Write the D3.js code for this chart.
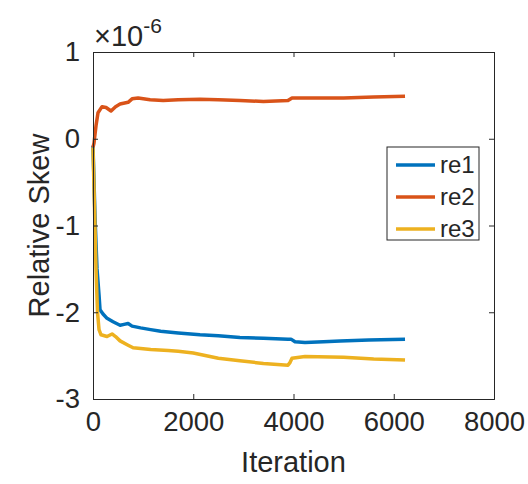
<!DOCTYPE html>
<html>
<head>
<meta charset="utf-8">
<script src="https://cdn.jsdelivr.net/npm/d3@7"></script>
<style>
  body { margin: 0; background: #fff; }
  svg text { font-family: "Liberation Sans", Arial, Helvetica, sans-serif; fill: #262626; }
</style>
</head>
<body>
<div id="chart"></div>
<script>
// values (y in units of 1e-6)
const re1Iter = [0, 40, 80, 120, 140, 200, 280, 400, 540, 620, 700, 780, 950, 1150, 1350, 1700, 2135, 2500, 2930, 3400, 3890, 3950, 4030, 4230, 4600, 4930, 5500, 6225];
const re1 = [-0.08, -0.9, -1.5, -1.8, -1.97, -2.02, -2.07, -2.11, -2.15, -2.14, -2.13, -2.16, -2.18, -2.2, -2.22, -2.24, -2.26, -2.27, -2.29, -2.3, -2.31, -2.31, -2.34, -2.35, -2.34, -2.33, -2.32, -2.31];

const re2Iter = [0, 20, 60, 100, 180, 260, 360, 450, 540, 700, 780, 900, 1140, 1400, 1700, 2135, 2500, 2930, 3400, 3890, 3970, 4500, 5000, 5600, 6225];
const re2 = [-0.1, -0.05, 0.15, 0.3, 0.37, 0.36, 0.32, 0.37, 0.40, 0.42, 0.46, 0.47, 0.45, 0.44, 0.45, 0.455, 0.45, 0.44, 0.43, 0.44, 0.47, 0.47, 0.47, 0.48, 0.49];

const re3Iter = [0, 30, 60, 90, 120, 160, 280, 380, 450, 540, 700, 800, 1000, 1150, 1500, 1700, 2000, 2500, 2930, 3400, 3890, 3930, 3970, 4230, 5000, 5600, 6225];
const re3 = [-0.1, -0.8, -1.5, -2.0, -2.2, -2.26, -2.28, -2.25, -2.28, -2.33, -2.38, -2.41, -2.42, -2.43, -2.44, -2.45, -2.47, -2.53, -2.56, -2.59, -2.61, -2.58, -2.53, -2.51, -2.52, -2.54, -2.55];

const seriesNames = ['re1', 're2', 're3'];
const seriesColors = ['#0072BD', '#D95319', '#EDB120'];
const xTicks = [0, 2000, 4000, 6000, 8000];
const yTicks = [-3, -2, -1, 0, 1];

const width = 528, height = 484;
const margins = { top: 52, right: 34, bottom: 85, left: 93 };

const svg = d3.select('#chart').append('svg')
    .attr('width', width)
    .attr('height', height);

const x = d3.scaleLinear().domain([0, 8000]).range([margins.left, width - margins.right]);
const y = d3.scaleLinear().domain([-3, 1]).range([height - margins.bottom, margins.top]);

const series = [
    { name: seriesNames[0], color: seriesColors[0], data: re1Iter.map((d, i) => [d, re1[i]]) },
    { name: seriesNames[1], color: seriesColors[1], data: re2Iter.map((d, i) => [d, re2[i]]) },
    { name: seriesNames[2], color: seriesColors[2], data: re3Iter.map((d, i) => [d, re3[i]]) },
];

const line = d3.line().x(d => x(d[0])).y(d => y(d[1]));

svg.append('g')
    .attr('fill', 'none')
    .selectAll('path')
    .data(series)
    .join('path')
    .attr('stroke', d => d.color)
    .attr('stroke-width', 3.5)
    .attr('stroke-linejoin', 'round')
    .attr('d', d => line(d.data));

// axes: ticks pointing inward, box on all sides
const tickLen = 5;
const axisColor = '#262626';
const fmt = d => String(d);

svg.append('g')
    .attr('transform', `translate(0,${y(-3)})`)
    .call(d3.axisBottom(x).tickValues(xTicks).tickSize(-tickLen).tickPadding(12).tickFormat(fmt))
    .call(g => g.select('.domain').attr('stroke', axisColor))
    .call(g => g.selectAll('.tick line').attr('stroke', axisColor))
    .call(g => g.selectAll('.tick text').attr('font-size', 27.5).attr('dy', '0.71em'));

svg.append('g')
    .attr('transform', `translate(${x(0)},0)`)
    .call(d3.axisLeft(y).tickValues(yTicks).tickSize(-tickLen).tickPadding(13).tickFormat(fmt))
    .call(g => g.select('.domain').attr('stroke', axisColor))
    .call(g => g.selectAll('.tick line').attr('stroke', axisColor))
    .call(g => g.selectAll('.tick text').attr('font-size', 27.5));

svg.append('g')
    .attr('transform', `translate(0,${y(1)})`)
    .call(d3.axisTop(x).tickValues(xTicks).tickSize(-tickLen).tickFormat(''))
    .call(g => g.select('.domain').attr('stroke', axisColor))
    .call(g => g.selectAll('.tick line').attr('stroke', axisColor));

svg.append('g')
    .attr('transform', `translate(${x(8000)},0)`)
    .call(d3.axisRight(y).tickValues(yTicks).tickSize(-tickLen).tickFormat(''))
    .call(g => g.select('.domain').attr('stroke', axisColor))
    .call(g => g.selectAll('.tick line').attr('stroke', axisColor));

// exponent
const expo = svg.append('text')
    .attr('x', x(0) + 1)
    .attr('y', 46)
    .attr('font-size', 29);
expo.append('tspan').text('\u00d710');
expo.append('tspan').attr('font-size', 21).attr('dy', -13).text('-6');

// axis labels
svg.append('text')
    .attr('x', (x(0) + x(8000)) / 2)
    .attr('y', 472)
    .attr('text-anchor', 'middle')
    .attr('font-size', 29)
    .text('Iteration');

svg.append('text')
    .attr('transform', `translate(49,${(y(-3) + y(1)) / 2}) rotate(-90)`)
    .attr('text-anchor', 'middle')
    .attr('font-size', 29)
    .text('Relative Skew');

// legend
const legend = svg.append('g').attr('transform', 'translate(387,147)');
legend.append('rect')
    .attr('width', 92)
    .attr('height', 93)
    .attr('fill', '#fff')
    .attr('stroke', axisColor);

const item = legend.selectAll('g.item')
    .data(series)
    .join('g')
    .attr('class', 'item')
    .attr('transform', (d, i) => `translate(0,${18 + i * 32})`);

item.append('line')
    .attr('x1', 9).attr('x2', 48)
    .attr('stroke', d => d.color)
    .attr('stroke-width', 3.5);

item.append('text')
    .attr('x', 53)
    .attr('dy', '0.35em')
    .attr('font-size', 24)
    .text(d => d.name);
</script>
</body>
</html>
